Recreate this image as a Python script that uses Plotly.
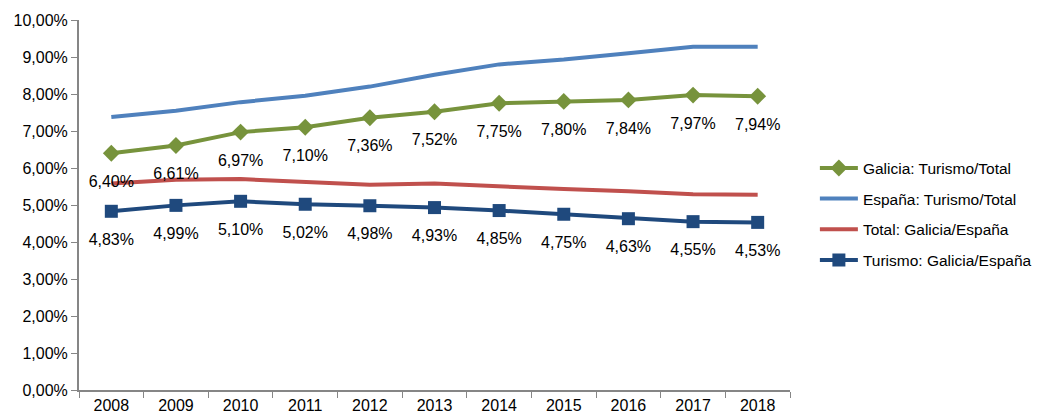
import plotly.graph_objects as go

years = ["2008", "2009", "2010", "2011", "2012", "2013", "2014", "2015", "2016", "2017", "2018"]
galicia_turismo_total = [6.40, 6.61, 6.97, 7.10, 7.36, 7.52, 7.75, 7.80, 7.84, 7.97, 7.94]
espana_turismo_total = [7.38, 7.55, 7.78, 7.95, 8.20, 8.52, 8.80, 8.93, 9.10, 9.28, 9.28]
total_galicia_espana = [5.58, 5.68, 5.70, 5.62, 5.55, 5.58, 5.50, 5.43, 5.37, 5.29, 5.28]
turismo_galicia_espana = [4.83, 4.99, 5.10, 5.02, 4.98, 4.93, 4.85, 4.75, 4.63, 4.55, 4.53]
y_ticks = [0, 1, 2, 3, 4, 5, 6, 7, 8, 9, 10]

FONT = "Liberation Sans, Arial, sans-serif"
Y_RANGE = [0, 10]
LABEL_SHIFT = 0.8  # data labels sit ~29px below their markers

def fmt(v):
    return ("{:.2f}".format(v)).replace(".", ",") + "%"

fig = go.Figure()
fig.add_trace(go.Scatter(
    x=years, y=galicia_turismo_total, name="Galicia: Turismo/Total",
    mode="lines+markers", legendgroup="a",
    line=dict(color="#77933C", width=4),
    marker=dict(symbol="diamond", size=13, color="#77933C"),
))
fig.add_trace(go.Scatter(
    x=years, y=espana_turismo_total, name="España: Turismo/Total",
    mode="lines", legendgroup="b",
    line=dict(color="#4F81BD", width=4),
))
fig.add_trace(go.Scatter(
    x=years, y=total_galicia_espana, name="Total: Galicia/España",
    mode="lines", legendgroup="c",
    line=dict(color="#C0504D", width=4),
))
fig.add_trace(go.Scatter(
    x=years, y=turismo_galicia_espana, name="Turismo: Galicia/España",
    mode="lines+markers", legendgroup="d",
    line=dict(color="#1F497D", width=4),
    marker=dict(symbol="square", size=13, color="#1F497D"),
))

# data labels (same values, drawn on an overlaid axis offset downward)
for series in (galicia_turismo_total, turismo_galicia_espana):
    fig.add_trace(go.Scatter(
        x=years, y=series, yaxis="y2", mode="text",
        text=[fmt(v) for v in series], textposition="middle center",
        textfont=dict(family=FONT, size=16, color="#000000"),
        showlegend=False, hoverinfo="skip",
    ))

fig.update_layout(
    width=1051, height=420,
    margin=dict(l=79, r=261, t=20, b=30),
    paper_bgcolor="white", plot_bgcolor="white",
    font=dict(family=FONT, size=16, color="#000000"),
    showlegend=True,
    legend=dict(
        x=1.035, y=0.645, xanchor="left", yanchor="top",
        font=dict(family=FONT, size=15.5, color="#000000"),
        tracegroupgap=7.5, itemwidth=38, bgcolor="rgba(0,0,0,0)",
    ),
    yaxis2=dict(
        overlaying="y", visible=False,
        range=[Y_RANGE[0] + LABEL_SHIFT, Y_RANGE[1] + LABEL_SHIFT],
    ),
)
fig.update_xaxes(
    type="category", showgrid=False, showline=True, linecolor="#868686", linewidth=2,
    ticks="outside", tickson="boundaries", ticklen=6, tickcolor="#868686",
    tickfont=dict(family=FONT, size=16), range=[-0.5, 10.5], automargin=False,
)
fig.update_layout(yaxis=dict(
    range=Y_RANGE, tickmode="array", tickvals=y_ticks, ticktext=[fmt(v) for v in y_ticks],
    showgrid=False, showline=True, linecolor="#868686", linewidth=2,
    ticks="outside", ticklen=6, tickcolor="#868686", zeroline=False,
    tickfont=dict(family=FONT, size=16), automargin=False,
))

fig.write_html("out.html", config={"displayModeBar": False},
               post_script="document.body.style.margin='0';")
